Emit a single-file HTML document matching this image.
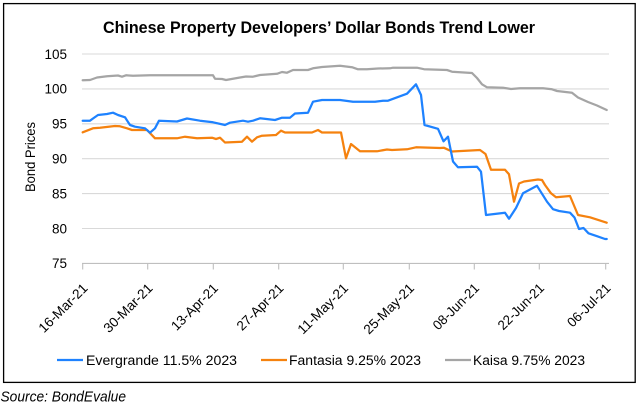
<!DOCTYPE html>
<html><head><meta charset="utf-8"><style>
html,body{margin:0;padding:0;background:#fff;}
svg{display:block;}
text{font-family:"Liberation Sans",Arial,sans-serif;fill:#000;}
</style></head><body>
<svg width="640" height="408" viewBox="0 0 640 408" xmlns="http://www.w3.org/2000/svg">
<rect x="0" y="0" width="640" height="408" fill="#fff"/>
<rect x="3.6" y="3.6" width="631.6" height="378.8" fill="none" stroke="#000" stroke-width="1.3"/>
<text x="319" y="33" font-size="17" font-weight="bold" text-anchor="middle" textLength="432" lengthAdjust="spacingAndGlyphs">Chinese Property Developers’ Dollar Bonds Trend Lower</text>
<g stroke="#d9d9d9" stroke-width="1.1">
<line x1="82" y1="54" x2="609" y2="54"/>
<line x1="82" y1="88.9" x2="609" y2="88.9"/>
<line x1="82" y1="123.8" x2="609" y2="123.8"/>
<line x1="82" y1="158.7" x2="609" y2="158.7"/>
<line x1="82" y1="193.6" x2="609" y2="193.6"/>
<line x1="82" y1="228.5" x2="609" y2="228.5"/>
</g>
<g stroke="#bfbfbf" stroke-width="1.1">
<line x1="82" y1="263.4" x2="609" y2="263.4"/>
<line x1="82.7" y1="263.4" x2="82.7" y2="269.5"/>
<line x1="147.7" y1="263.4" x2="147.7" y2="269.5"/>
<line x1="213.3" y1="263.4" x2="213.3" y2="269.5"/>
<line x1="278.7" y1="263.4" x2="278.7" y2="269.5"/>
<line x1="343.3" y1="263.4" x2="343.3" y2="269.5"/>
<line x1="409.3" y1="263.4" x2="409.3" y2="269.5"/>
<line x1="474.3" y1="263.4" x2="474.3" y2="269.5"/>
<line x1="539.3" y1="263.4" x2="539.3" y2="269.5"/>
<line x1="605.7" y1="263.4" x2="605.7" y2="269.5"/>
</g>
<g font-size="13.5" text-anchor="end">
<text x="67" y="58.8">105</text>
<text x="67" y="93.7">100</text>
<text x="67" y="128.6">95</text>
<text x="67" y="163.5">90</text>
<text x="67" y="198.4">85</text>
<text x="67" y="233.3">80</text>
<text x="67" y="268.2">75</text>
</g>
<text transform="translate(35,157) rotate(-90)" font-size="13.5" text-anchor="middle" textLength="70" lengthAdjust="spacingAndGlyphs">Bond Prices</text>
<g font-size="13.5" text-anchor="end">
<text transform="translate(88.5,289) rotate(-45)" textLength="63" lengthAdjust="spacingAndGlyphs">16-Mar-21</text>
<text transform="translate(153.5,289) rotate(-45)" textLength="63" lengthAdjust="spacingAndGlyphs">30-Mar-21</text>
<text transform="translate(219,289) rotate(-45)" textLength="60" lengthAdjust="spacingAndGlyphs">13-Apr-21</text>
<text transform="translate(284.5,289) rotate(-45)" textLength="60" lengthAdjust="spacingAndGlyphs">27-Apr-21</text>
<text transform="translate(349,289) rotate(-45)" textLength="65" lengthAdjust="spacingAndGlyphs">11-May-21</text>
<text transform="translate(415,289) rotate(-45)" textLength="65" lengthAdjust="spacingAndGlyphs">25-May-21</text>
<text transform="translate(480,289) rotate(-45)" textLength="59" lengthAdjust="spacingAndGlyphs">08-Jun-21</text>
<text transform="translate(545,289) rotate(-45)" textLength="59" lengthAdjust="spacingAndGlyphs">22-Jun-21</text>
<text transform="translate(611.5,289) rotate(-45)" textLength="55" lengthAdjust="spacingAndGlyphs">06-Jul-21</text>
</g>
<g fill="none" stroke-width="2.25" stroke-linejoin="round" stroke-linecap="round">
<polyline stroke="#a5a5a5" points="82.7,80.3 90,80 97,77.5 107,76.2 118,75.5 122,76.7 126,75.3 133,75.7 150,75.3 180,75.3 213,75.3 215,78.7 222,79 226,80 240,77.5 246,76.5 253,76.7 260,75 277,73.8 282,72 287,72.7 293,70 308,70 313,68.3 322,67 340,65.8 352,67.2 358,69.3 367,69.3 378,68.5 390,68.3 393,67.7 417,67.7 424,69.2 447,70 452,71.7 472,73 477,78 482,84.3 487,87.3 503,87.7 511,89 520,88.3 543,88.3 552,89.3 557,91 572,92.7 578,97.5 588,102 597,105.5 606.7,110"/>
<polyline stroke="#f5820f" points="82.7,132.3 93,128.3 100,127.7 115,126 120,126.3 127,128.3 132,130 147,130 155,138.3 177,138.3 185,136.7 197,138.3 212,137.7 216,139 220,137.7 225,142.5 242,141.7 247,136.7 252,141.7 257,137.3 262,135.7 276,135 281,130.7 285,132.5 312,132.5 318,130 322,132.5 341,132.5 346,158.3 351,144 360,151.3 377,151.3 387,149.5 392,150 407,149.3 416,147.3 440,148 444,147.8 452,151.5 480,150 485.5,154 491,169.7 505,169.7 509,174.3 514,201.7 519,183.5 524,181.5 538,179.5 542,180 545,185 551,193.3 556,197.3 570,196 578,215 590,217.3 606.7,222.7"/>
<polyline stroke="#1e82ff" points="82.7,120.7 90,120.7 93,118.5 98,115 107,114 113,112.7 118,115 125,117.3 130,125 135,126.7 145,128.3 150,132.7 155,128.3 159,120.7 177,121.5 187,118.5 200,120.7 213,122.3 225,125 230,122.7 243,120.7 248,121.7 253,120.7 260,118.3 275,120 282,117.7 290,117.7 295,113.5 308,112.7 313,101.7 322,100 340,100 353,101.7 375,101.7 383,100.7 388,100.7 407,93.7 416,84.3 421,95 424.5,125 438,128.8 443.5,141.3 448,136.7 453,161.5 458,167.3 477,166.7 481,171.7 486,215 505,212.7 509,218.7 516,208 523,193.3 537,185.8 547,201.7 553,209.2 559,211 570,212.7 574.5,217.5 579,229 583.5,228 588.5,233.3 597,236.2 605,239 606.7,239"/>
</g>
<g stroke-width="2.25">
<line x1="57" y1="360" x2="83" y2="360" stroke="#1e82ff"/>
<line x1="261" y1="360" x2="287" y2="360" stroke="#f5820f"/>
<line x1="445" y1="360" x2="471" y2="360" stroke="#a5a5a5"/>
</g>
<g font-size="13.5">
<text x="86" y="365" textLength="151" lengthAdjust="spacingAndGlyphs">Evergrande 11.5% 2023</text>
<text x="289" y="365" textLength="132" lengthAdjust="spacingAndGlyphs">Fantasia 9.25% 2023</text>
<text x="473" y="365" textLength="112" lengthAdjust="spacingAndGlyphs">Kaisa 9.75% 2023</text>
</g>
<text x="0.5" y="401.5" font-size="14.5" font-style="italic" textLength="125.5" lengthAdjust="spacingAndGlyphs">Source: BondEvalue</text>
</svg>
</body></html>
